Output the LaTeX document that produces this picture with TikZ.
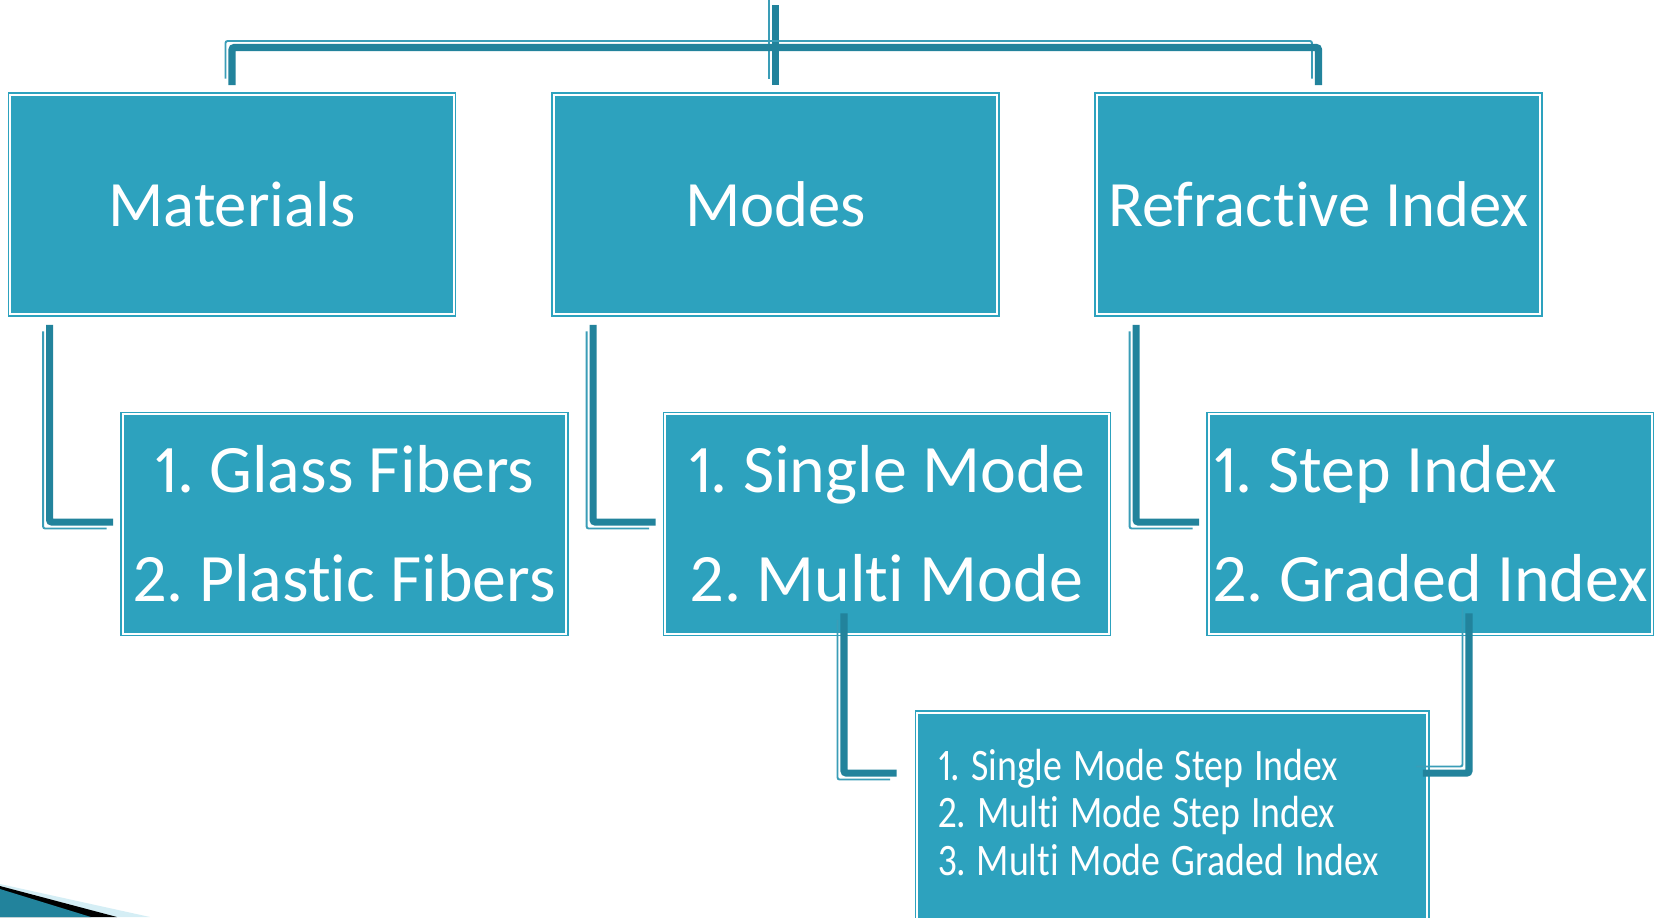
\documentclass[tikz,border=0pt]{standalone}
\usepackage{fontspec}
\setmainfont{Carlito}[Numbers=Proportional, Ligatures=NoCommon]
\newfontfamily\narrowfont{Carlito}[FakeStretch=0.84, Numbers=Proportional, Ligatures=NoCommon]
\usepackage{tikz}
\usetikzlibrary{calc}
\frenchspacing

\definecolor{boxteal}{HTML}{2DA2BE}
\definecolor{linkteal}{HTML}{22839C}
\definecolor{rimteal}{HTML}{3A9DB7}
\definecolor{paleteal}{HTML}{D5EEF5}

\tikzset{
  panel/.style={fill=boxteal, draw=boxteal, double=white, double distance=0.55pt,
    line width=0.45pt, text=white, inner sep=0pt},
  headbox/.style={panel, minimum width=4.43cm, minimum height=2.19cm,
    font=\fontsize{18.4}{21}\selectfont},
  itembox/.style={panel, minimum width=4.43cm, minimum height=2.19cm, align=center,
    font=\fontsize{19.3}{31}\selectfont},
  listbox/.style={panel, text width=4.675cm, inner xsep=0.21cm, inner ysep=0.36cm,
    align=left, font=\narrowfont\fontsize{12.8}{13.5}\selectfont},
  link/.style={draw=linkteal, line width=2pt, rounded corners=0.6pt},
  rimdown/.style={preaction={draw=rimteal, line width=0.55pt,
    transform canvas={shift={(-0.065cm,-0.065cm)}}}},
  rimup/.style={preaction={draw=rimteal, line width=0.55pt,
    transform canvas={shift={(-0.065cm,0.065cm)}}}},
}

\begin{document}
\begin{tikzpicture}[x=0.01cm, y=-0.01cm]
\useasboundingbox (0,0) rectangle (1654,917);
\clip (0,0) rectangle (1654,917);
\fill[white] (0,0) rectangle (1654,917);

% corner wedge
\fill[paleteal] (0,884) -- (150,917) -- (0,917) -- cycle;
\fill[black] (0,886) -- (117,917) -- (0,917) -- cycle;
\fill[linkteal] (0,889) -- (91,917) -- (0,917) -- cycle;

% first row
\node[headbox] (mat) at (232,204.5) {Materials};
\node[headbox] (modes) at (775.5,204.5) {Modes};
\node[headbox] (refr) at (1318.5,204.5) {Refractive Index};

% second row
\node[itembox] (glass) at (344.5,524) {1. Glass Fibers\\2. Plastic Fibers};
\node[itembox] (single) at (887,524) {1. Single Mode\\2. Multi Mode};
\node[itembox, align=left] (step) at (1430.5,524) {1. Step Index\\2. Graded Index};

% combined types
\node[listbox, anchor=north west] (types) at (916.6,712)
  {\spaceskip=0.24em\relax
   1. Single Mode Step Index\\2. Multi Mode Step Index\\3. Multi Mode Graded Index\par\vspace*{0.5cm}};

% connectors
\coordinate (stemtop) at (775.5,5);
\draw[link, rimup] (stemtop) -- ($(modes.north)+(0,-9)$);
\draw[link, rimup] ($(mat.north)+(0,-9)$) |- ($(stemtop)+(0,42.5)$)
  -| ($(refr.north)+(0,-9)$);
\draw[link, rimdown] ($(mat.south west)+(40,10)$) |- ($(glass.west)+(-9,-2)$);
\draw[link, rimdown] ($(modes.south west)+(40,10)$) |- ($(single.west)+(-9,-2)$);
\draw[link, rimdown] ($(refr.south west)+(40,10)$) |- ($(step.west)+(-9,-2)$);
\draw[link, rimdown] ($(single.south)+(-43,-21)$) |- ($(types.north west)+(-20,61)$);
\draw[link, rimup] ($(step.south)+(38.5,-21)$) |- ($(types.north east)+(-5,61)$);
\end{tikzpicture}
\end{document}
